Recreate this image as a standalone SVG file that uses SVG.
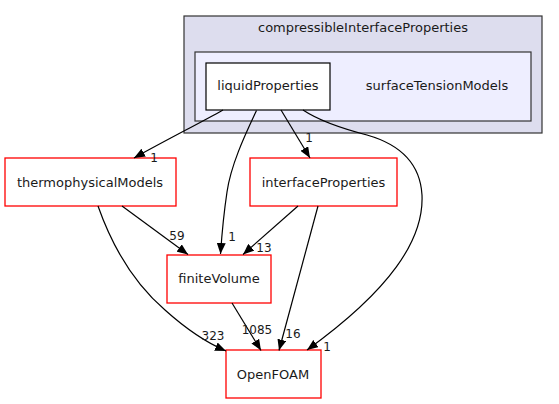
<svg xmlns="http://www.w3.org/2000/svg" width="559" height="404" viewBox="0 0 559 404">
<defs>
<style>
text{font-family:"DejaVu Sans",sans-serif;fill:#1a1a1a}
.n{font-size:13px;text-anchor:middle}
.e{font-size:12px;text-anchor:middle}
.red{fill:#fff;stroke:#ff0000;stroke-width:1.3}
.edge{fill:none;stroke:#000;stroke-width:1.2}
</style>
<marker id="ah" viewBox="0 0 11 9" refX="11" refY="4.5" markerWidth="11" markerHeight="9" markerUnits="userSpaceOnUse" orient="auto">
<path d="M0,0 L11,4.5 L0,9 Z" fill="#000"/>
</marker>
</defs>
<rect width="559" height="404" fill="#fff"/>
<g id="cluster_compressibleInterfaceProperties">
<rect x="184" y="16" width="358" height="117" fill="#ddddee" stroke="#333" stroke-width="1.2"/>
<text class="n" x="363" y="32">compressibleInterfaceProperties</text>
</g>
<g id="cluster_surfaceTensionModels">
<rect x="195" y="52" width="336" height="69" fill="#eeeeff" stroke="#333" stroke-width="1.2"/>
<text class="n" x="437" y="90">surfaceTensionModels</text>
</g>
<g id="node_liquidProperties">
<rect x="206" y="63" width="124" height="47" fill="#fff" stroke="#000" stroke-width="1.2"/>
<text class="n" x="268" y="90">liquidProperties</text>
</g>
<g id="node_thermophysicalModels">
<rect class="red" x="5" y="158" width="171" height="48"/>
<text class="n" x="90" y="187">thermophysicalModels</text>
</g>
<g id="node_interfaceProperties">
<rect class="red" x="250" y="158" width="147" height="48"/>
<text class="n" x="323.5" y="187">interfaceProperties</text>
</g>
<g id="node_finiteVolume">
<rect class="red" x="167" y="255" width="104" height="48"/>
<text class="n" x="219" y="283">finiteVolume</text>
</g>
<g id="node_OpenFOAM">
<rect class="red" x="226" y="350" width="95" height="48"/>
<text class="n" x="273" y="379">OpenFOAM</text>
</g>
<g id="connectors">
<path class="edge" marker-end="url(#ah)" d="M223,110 C200,123 170,138 134,158"/>
<text class="e" x="154" y="162">1</text>
<path class="edge" marker-end="url(#ah)" d="M256.5,110.5 C246,133 231,164 227,192 C224,212 222,232 220.5,254"/>
<text class="e" x="232" y="241">1</text>
<path class="edge" marker-end="url(#ah)" d="M281,110 L310,158"/>
<text class="e" x="309" y="142">1</text>
<path class="edge" marker-end="url(#ah)" d="M303,110 C318,120 340,128 367,135 C395,143 420,160 422,195 C424,240 390,290 307,350"/>
<text class="e" x="327" y="351">1</text>
<path class="edge" marker-end="url(#ah)" d="M122,206 L188,254.5"/>
<text class="e" x="177" y="240">59</text>
<path class="edge" marker-end="url(#ah)" d="M98,206 C110,240 130,280 165,310 C185,328 205,342 226,351"/>
<text class="e" x="213" y="340">323</text>
<path class="edge" marker-end="url(#ah)" d="M298,206 L243,254.5"/>
<text class="e" x="264" y="252">13</text>
<path class="edge" marker-end="url(#ah)" d="M318,206 L279,350.5"/>
<text class="e" x="293" y="338">16</text>
<path class="edge" marker-end="url(#ah)" d="M232,303 L261,350.5"/>
<text class="e" x="257" y="334">1085</text>
</g>
</svg>
